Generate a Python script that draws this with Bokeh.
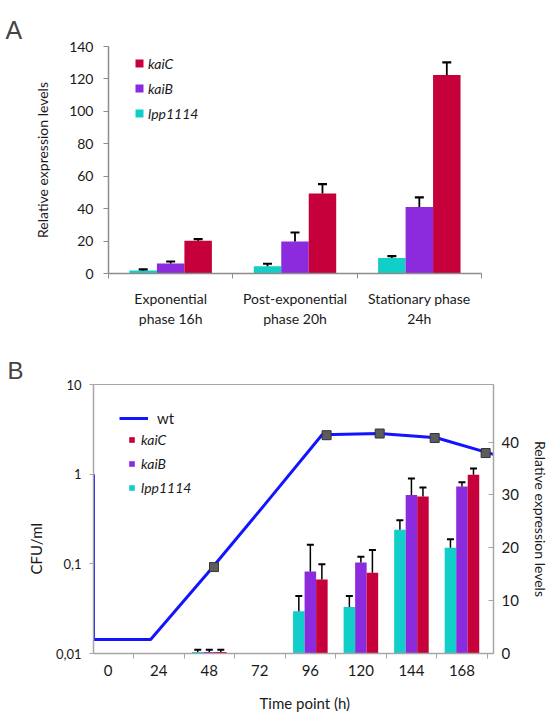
from bokeh.plotting import figure
from bokeh.models import (Range1d, LinearAxis, FixedTicker, Legend, LegendItem, LinearScale, Title)
from bokeh.embed import file_html
from bokeh.resources import INLINE

# ---------------- Panel A data ----------------
phases = ["Exponential\nphase 16h", "Post-exponential\nphase 20h", "Stationary phase\n24h"]
a_yticks = [0, 20, 40, 60, 80, 100, 120, 140]
a_lpp = [1.9, 4.5, 9.5]
a_lpp_err = [0.6, 1.5, 1.2]
a_kaib = [6.2, 19.7, 41.0]
a_kaib_err = [1.2, 5.6, 6.0]
a_kaic = [20.2, 49.3, 122.4]
a_kaic_err = [1.0, 5.8, 7.8]

# ---------------- Panel B data ----------------
time_labels = ["0", "24", "48", "72", "96", "120", "144", "168"]
time_hours = [0, 24, 48, 72, 96, 120, 144, 168]
bar_hours = [48, 96, 120, 144, 168]
b_lpp = [0.3, 8.0, 8.8, 23.4, 20.0]
b_lpp_err = [0.4, 2.9, 2.1, 1.8, 1.6]
b_kaib = [0.3, 15.5, 17.2, 30.0, 31.6]
b_kaib_err = [0.4, 5.1, 1.1, 3.1, 0.8]
b_kaic = [0.3, 14.0, 15.3, 29.7, 33.8]
b_kaic_err = [0.4, 2.9, 4.3, 1.7, 1.2]
wt_hours = [0, 0, 24, 48, 72, 96, 120, 144, 168]
wt_cfu = [1.0, 0.0143, 0.0143, 0.079, 0.46, 2.75, 2.85, 2.55, 1.66]
mark_hours = [50.6, 97.9, 120.2, 143.3, 164.7]
mark_cfu = [0.092, 2.72, 2.84, 2.53, 1.72]
b_left_ticks = [0.01, 0.1, 1, 10]
b_left_labels = ["0,01", "0,1", "1", "10"]
b_right_ticks = [0, 10, 20, 30, 40]

RED = "#C5003A"
PURPLE = "#8B2BDD"
CYAN = "#12CEC8"
AXC = "#8c8c8c"
AXB = "#a6a6a6"
TXT = "#1a1a1a"
FONT = "Lato"

# ================= Panel A =================
pa = figure(frame_width=373, frame_height=227,
            x_range=Range1d(-0.5, 2.5), y_range=Range1d(0, 140),
            output_backend="svg", toolbar_location=None, title="A",
            min_border_left=108, min_border_right=73, min_border_top=46, min_border_bottom=60)
pa.grid.visible = False
pa.outline_line_color = None
pa.title.text_font = "Liberation Sans"
pa.title.text_font_size = "25px"
pa.title.text_font_style = "normal"
pa.title.align = "left"
pa.title.offset = -103
pa.title.standoff = 6

wa = 0.221
ren_a = {}
for name, vals, errs, col, k in [("lpp1114", a_lpp, a_lpp_err, CYAN, -1),
                                  ("kaiB", a_kaib, a_kaib_err, PURPLE, 0),
                                  ("kaiC", a_kaic, a_kaic_err, RED, 1)]:
    xs = [i + k * wa for i in range(len(phases))]
    ren_a[name] = pa.vbar(x=xs, top=vals, bottom=0, width=wa, fill_color=col, line_color=None)
    tops = [v + e for v, e in zip(vals, errs)]
    pa.segment(x0=xs, y0=vals, x1=xs, y1=tops, line_color="black", line_width=1.8)
    pa.scatter(x=xs, y=tops, marker="dash", size=9, line_color="black", line_width=2.2)

xa = pa.xaxis[0]
xa.ticker = FixedTicker(ticks=list(range(len(phases))),
                        minor_ticks=[i - 0.5 for i in range(len(phases) + 1)])
xa.major_label_overrides = {i: lab for i, lab in enumerate(phases)}
xa.major_tick_line_color = None
xa.major_tick_out = 5
xa.major_label_standoff = 11
xa.minor_tick_line_color = AXC
xa.minor_tick_out = 5
xa.minor_tick_in = 0
xa.axis_line_color = AXC
xa.axis_line_width = 1.5
xa.major_label_text_font = FONT
xa.major_label_text_font_size = "14px"
xa.major_label_text_color = TXT

ya = pa.yaxis[0]
ya.ticker = FixedTicker(ticks=a_yticks)
ya.axis_label = "Relative expression levels"
ya.axis_label_text_font = FONT
ya.axis_label_text_font_size = "14px"
ya.axis_label_text_font_style = "normal"
ya.axis_label_text_color = TXT
ya.axis_label_standoff = 15
ya.major_label_text_font = FONT
ya.major_label_text_font_size = "14px"
ya.major_label_text_color = TXT
ya.major_label_standoff = 10
ya.major_tick_out = 5
ya.major_tick_in = 0
ya.minor_tick_line_color = None
ya.major_tick_line_color = AXC
ya.axis_line_color = AXC
ya.axis_line_width = 1.5

leg_a = Legend(items=[LegendItem(label="kaiC", renderers=[ren_a["kaiC"]]),
                      LegendItem(label="kaiB", renderers=[ren_a["kaiB"]]),
                      LegendItem(label="lpp1114", renderers=[ren_a["lpp1114"]])],
               location=(26, 150), padding=0, margin=0, spacing=5,
               label_height=20, glyph_height=10, glyph_width=10, label_standoff=4,
               border_line_color=None, background_fill_alpha=0,
               label_text_font=FONT, label_text_font_style="italic",
               label_text_font_size="14px", label_text_color=TXT)
pa.add_layout(leg_a, "center")

# ================= Panel B =================
pb = figure(frame_width=400, frame_height=269,
            x_range=Range1d(-0.291, 7.624), y_range=Range1d(0.01, 10), y_axis_type="log",
            output_backend="svg", toolbar_location=None, title="B",
            min_border_left=93, min_border_right=61, min_border_top=51, min_border_bottom=72)
pb.extra_x_ranges = {"h": Range1d(0, 168)}
pb.extra_y_ranges = {"expr": Range1d(0, 50.9)}
pb.extra_y_scales = {"expr": LinearScale()}
pb.grid.visible = False
pb.outline_line_color = AXB
pb.title.text_font = "Liberation Sans"
pb.title.text_font_size = "24px"
pb.title.text_font_style = "normal"
pb.title.align = "left"
pb.title.offset = -86
pb.title.standoff = 1

wb = 0.228
ren_b = {}
for name, vals, errs, col, k in [("lpp1114", b_lpp, b_lpp_err, CYAN, -1),
                                  ("kaiB", b_kaib, b_kaib_err, PURPLE, 0),
                                  ("kaiC", b_kaic, b_kaic_err, RED, 1)]:
    xs = [h / 24 + k * wb for h in bar_hours]
    ren_b[name] = pb.vbar(x=xs, top=vals, bottom=0, width=wb, fill_color=col,
                          line_color=None, y_range_name="expr")
    tops = [v + e for v, e in zip(vals, errs)]
    pb.segment(x0=xs, y0=vals, x1=xs, y1=tops, line_color="black", line_width=1.5,
               y_range_name="expr")
    pb.scatter(x=xs, y=tops, marker="dash", size=7, line_color="black", line_width=2,
               y_range_name="expr")

wt_r = pb.line(x=wt_hours, y=wt_cfu, x_range_name="h", line_color="#1414ff", line_width=3)
pb.scatter(x=mark_hours, y=mark_cfu, x_range_name="h", marker="square", size=9,
           fill_color="#5c5c5c", line_color="#333333", line_width=1)

bx = pb.xaxis[0]
bx.ticker = FixedTicker(ticks=[h / 24 for h in time_hours],
                        minor_ticks=[h / 24 + 0.5 for h in time_hours])
bx.major_label_overrides = {h / 24: lab for h, lab in zip(time_hours, time_labels)}
bx.major_tick_line_color = None
bx.major_tick_out = 5
bx.major_label_standoff = 6
bx.minor_tick_line_color = AXB
bx.minor_tick_out = 5
bx.minor_tick_in = 0
bx.axis_line_color = AXB
bx.axis_line_width = 1.5
bx.major_label_text_font = FONT
bx.major_label_text_font_size = "15px"
bx.major_label_text_color = TXT

by = pb.yaxis[0]
by.ticker = FixedTicker(ticks=b_left_ticks)
by.major_label_overrides = {t: lab for t, lab in zip(b_left_ticks, b_left_labels)}
by.major_label_text_font = FONT
by.major_label_text_font_size = "13px"
by.major_label_text_color = TXT
by.major_label_standoff = 8
by.major_tick_out = 4
by.major_tick_in = 0
by.minor_tick_line_color = None
by.major_tick_line_color = AXB
by.axis_line_color = AXB
by.axis_line_width = 1.5

ax_r = LinearAxis(y_range_name="expr", ticker=FixedTicker(ticks=b_right_ticks),
                  axis_label="Relative expression levels")
ax_r.axis_label_text_font = FONT
ax_r.axis_label_text_font_size = "14px"
ax_r.axis_label_text_font_style = "normal"
ax_r.axis_label_text_color = TXT
ax_r.axis_label_standoff = 10
ax_r.major_label_text_font = FONT
ax_r.major_label_text_font_size = "15px"
ax_r.major_label_text_color = TXT
ax_r.major_label_standoff = 8
ax_r.major_tick_in = 5
ax_r.major_tick_out = 0
ax_r.minor_tick_line_color = None
ax_r.major_tick_line_color = AXB
ax_r.axis_line_color = AXB
ax_r.axis_line_width = 1.5
pb.add_layout(ax_r, "right")

# axis titles of panel B (offset along the axis, as in the original)
pb.add_layout(Title(text="CFU/ml", align="left", offset=79, standoff=15,
                    text_font=FONT, text_font_size="15px", text_font_style="normal",
                    text_color=TXT), "left")
pb.add_layout(Title(text="Time point  (h)", align="left", offset=166, standoff=27,
                    text_font=FONT, text_font_size="15px", text_font_style="normal",
                    text_color=TXT), "below")

leg_wt = Legend(items=[LegendItem(label="wt", renderers=[wt_r])],
                location=(26, 225), padding=0, margin=0, spacing=0,
                label_height=20, glyph_height=20, glyph_width=29, label_standoff=9,
                border_line_color=None, background_fill_alpha=0,
                label_text_font=FONT, label_text_font_size="15px", label_text_color=TXT)
pb.add_layout(leg_wt, "center")

leg_b = Legend(items=[LegendItem(label="kaiC", renderers=[ren_b["kaiC"]]),
                      LegendItem(label="kaiB", renderers=[ren_b["kaiB"]]),
                      LegendItem(label="lpp1114", renderers=[ren_b["lpp1114"]])],
               location=(35, 156), padding=0, margin=0, spacing=4,
               label_height=20, glyph_height=7, glyph_width=7, label_standoff=6,
               border_line_color=None, background_fill_alpha=0,
               label_text_font=FONT, label_text_font_style="italic",
               label_text_font_size="14px", label_text_color=TXT)
pb.add_layout(leg_b, "center")

# two separate roots, stacked on the page (no frame alignment between them)
open("out.html", "w").write(file_html([pa, pb], INLINE))
